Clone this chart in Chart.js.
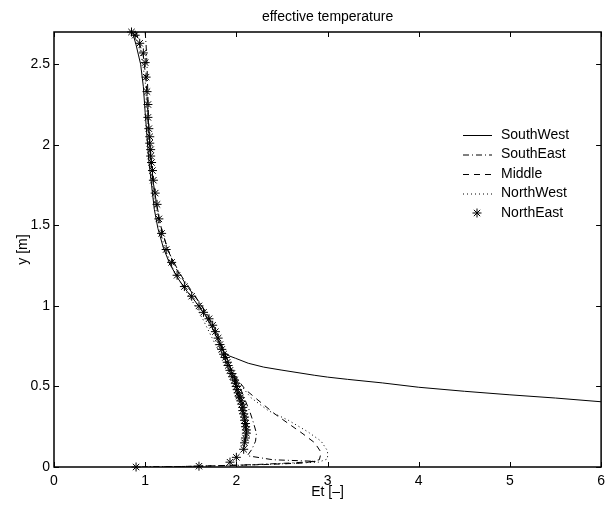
<!DOCTYPE html>
<html lang="en">
<head>
    <meta charset="UTF-8">
    <title>effective temperature</title>
    <style>
        body { margin: 0; background: #fff; }
        canvas { display: block; }
    </style>
</head>
<body>
    <canvas id="myChart" width="611" height="506"></canvas>
    <script src="https://cdn.jsdelivr.net/npm/chart.js@4.4.1/dist/chart.umd.min.js"></script>
    <script>
        // valores
        const nombres = ['SouthWest', 'SouthEast', 'Middle', 'NorthWest', 'NorthEast'];
        const xTicks = [0, 1, 2, 3, 4, 5, 6];
        const yTicks = [0, 0.5, 1, 1.5, 2, 2.5];

        const swX = [0.86, 0.9, 0.95, 0.98, 1.0, 1.02, 1.04, 1.07, 1.10, 1.14, 1.2, 1.27, 1.36, 1.46, 1.56, 1.65, 1.72, 1.78, 1.83, 1.86, 1.92, 1.99, 2.13, 2.3, 2.49, 2.86, 3.0, 3.22, 3.6, 4.0, 4.5, 5.0, 5.5, 6.0];
        const swY = [2.70, 2.62, 2.50, 2.36, 2.2, 2.05, 1.9, 1.75, 1.6, 1.48, 1.36, 1.26, 1.17, 1.09, 1.02, 0.95, 0.88, 0.81, 0.75, 0.716, 0.69, 0.675, 0.644, 0.62, 0.602, 0.569, 0.558, 0.544, 0.522, 0.495, 0.47, 0.448, 0.428, 0.405];

        const seX = [1.0, 1.01, 1.02, 1.03, 1.04, 1.06, 1.09, 1.13, 1.19, 1.27, 1.38, 1.5, 1.62, 1.72, 1.8, 1.87, 1.93, 1.99, 2.05, 2.1, 2.15, 2.19, 2.22, 2.21, 2.17, 2.12, 2.4, 2.88, 2.6, 2.2, 1.8, 1.4, 1.0];
        const seY = [2.70, 2.62, 2.5, 2.3, 2.1, 1.9, 1.75, 1.6, 1.45, 1.32, 1.2, 1.1, 1.0, 0.9, 0.8, 0.7, 0.62, 0.55, 0.48, 0.41, 0.34, 0.27, 0.21, 0.16, 0.11, 0.07, 0.045, 0.035, 0.025, 0.015, 0.008, 0.003, 0.0];

        const miX = [0.9, 0.98, 1.01, 1.03, 1.05, 1.08, 1.12, 1.17, 1.24, 1.33, 1.45, 1.57, 1.68, 1.76, 1.83, 1.89, 1.94, 1.99, 2.1, 2.27, 2.42, 2.57, 2.72, 2.86, 2.93, 2.91, 2.75, 2.3, 1.8, 1.3, 0.95];
        const miY = [2.7, 2.55, 2.4, 2.2, 2.0, 1.8, 1.65, 1.5, 1.36, 1.24, 1.13, 1.04, 0.95, 0.86, 0.77, 0.68, 0.61, 0.56, 0.48, 0.40, 0.33, 0.27, 0.21, 0.15, 0.09, 0.045, 0.025, 0.015, 0.008, 0.002, 0.0];

        const nwX = [0.88, 0.96, 1.0, 1.02, 1.04, 1.07, 1.1, 1.15, 1.21, 1.28, 1.37, 1.47, 1.56, 1.63, 1.7, 1.77, 1.84, 1.91, 1.98, 2.06, 2.16, 2.35, 2.57, 2.78, 2.93, 3.0, 3.0, 2.9, 2.5, 2.0, 1.5, 1.0];
        const nwY = [2.7, 2.55, 2.4, 2.2, 2.0, 1.8, 1.65, 1.5, 1.37, 1.26, 1.16, 1.07, 0.99, 0.92, 0.84, 0.76, 0.69, 0.62, 0.56, 0.5, 0.43, 0.35, 0.29, 0.22, 0.16, 0.1, 0.05, 0.03, 0.02, 0.01, 0.004, 0.0];

        const neX = [0.85, 0.89, 0.94, 0.98, 1.0, 1.01, 1.02, 1.03, 1.03, 1.04, 1.05, 1.05, 1.06, 1.06, 1.07, 1.08, 1.09, 1.11, 1.13, 1.15, 1.18, 1.23, 1.29, 1.35, 1.43, 1.51, 1.59, 1.64, 1.70, 1.74, 1.77, 1.80, 1.82, 1.84, 1.86, 1.88, 1.90, 1.91, 1.93, 1.95, 1.96, 1.98, 1.99, 2.0, 2.01, 2.02, 2.03, 2.04, 2.05, 2.06, 2.07, 2.07, 2.08, 2.09, 2.09, 2.10, 2.10, 2.11, 2.11, 2.10, 2.09, 2.08, 2.0, 1.93, 1.59, 0.9];
        const neY = [2.70, 2.68, 2.63, 2.57, 2.51, 2.42, 2.33, 2.25, 2.17, 2.10, 2.05, 2.01, 1.97, 1.93, 1.89, 1.84, 1.78, 1.70, 1.63, 1.54, 1.45, 1.35, 1.27, 1.19, 1.12, 1.06, 1.0, 0.96, 0.92, 0.88, 0.84, 0.80, 0.76, 0.73, 0.70, 0.68, 0.65, 0.63, 0.60, 0.58, 0.56, 0.54, 0.52, 0.50, 0.48, 0.46, 0.44, 0.43, 0.41, 0.39, 0.37, 0.35, 0.33, 0.31, 0.29, 0.27, 0.25, 0.23, 0.21, 0.18, 0.15, 0.11, 0.06, 0.03, 0.005, 0.0];

        const familia = '"Liberation Sans", Arial, Helvetica, sans-serif';
        const fuente = { family: familia, size: 14, weight: 'normal' };

        function puntos(xs, ys) {
            return xs.map((x, i) => ({ x: x, y: ys[i] }));
        }

        const series = [
            { label: nombres[0], data: puntos(swX, swY), dash: [] },
            { label: nombres[1], data: puntos(seX, seY), dash: [6, 3, 1, 3] },
            { label: nombres[2], data: puntos(miX, miY), dash: [6, 5] },
            { label: nombres[3], data: puntos(nwX, nwY), dash: [1, 3] },
        ];

        const datasets = series.map(s => ({
            label: s.label,
            data: s.data,
            showLine: true,
            borderColor: '#000',
            borderWidth: 1,
            borderDash: s.dash,
            pointRadius: 0,
            tension: 0,
        }));
        datasets.push({
            label: nombres[4],
            data: puntos(neX, neY),
            showLine: false,
            pointStyle: 'star',
            pointRadius: 4.5,
            pointBorderWidth: 1,
            borderColor: '#000',
            backgroundColor: '#000',
            clip: false,
        });

        // marco y marcas hacia adentro, estilo matlab
        const marco = {
            id: 'marco',
            afterDatasetsDraw(chart) {
                const { ctx, chartArea: a, scales: { x, y } } = chart;
                ctx.save();
                ctx.strokeStyle = '#000';
                ctx.lineWidth = 1;
                ctx.setLineDash([]);
                ctx.beginPath();
                x.ticks.forEach(t => {
                    const px = Math.round(x.getPixelForValue(t.value)) + 0.5;
                    ctx.moveTo(px, a.bottom); ctx.lineTo(px, a.bottom - 5);
                    ctx.moveTo(px, a.top); ctx.lineTo(px, a.top + 5);
                });
                y.ticks.forEach(t => {
                    const py = Math.round(y.getPixelForValue(t.value)) + 0.5;
                    ctx.moveTo(a.left, py); ctx.lineTo(a.left + 5, py);
                    ctx.moveTo(a.right, py); ctx.lineTo(a.right - 5, py);
                });
                ctx.stroke();
                ctx.lineWidth = 1.5;
                ctx.strokeRect(a.left, a.top, a.right - a.left, a.bottom - a.top);

                // titulo centrado sobre el area del grafico
                ctx.font = '14px ' + familia;
                ctx.fillStyle = '#000';
                ctx.textAlign = 'center';
                ctx.textBaseline = 'middle';
                ctx.fillText('effective temperature', (a.left + a.right) / 2, 17);
                ctx.restore();
            }
        };

        const leyenda = {
            id: 'leyenda',
            afterDraw(chart) {
                const ctx = chart.ctx;
                ctx.save();
                ctx.font = '14px ' + familia;
                ctx.fillStyle = '#000';
                ctx.strokeStyle = '#000';
                ctx.textBaseline = 'middle';
                chart.data.datasets.forEach((ds, i) => {
                    const yy = 135 + i * 19.5;
                    if (ds.showLine) {
                        ctx.lineWidth = 1;
                        ctx.setLineDash(ds.borderDash);
                        ctx.beginPath();
                        ctx.moveTo(463, yy + 0.5);
                        ctx.lineTo(492, yy + 0.5);
                        ctx.stroke();
                        ctx.setLineDash([]);
                    } else {
                        Chart.helpers.drawPoint(ctx, { pointStyle: 'star', radius: 4.5, rotation: 0, borderWidth: 1 }, 477, yy);
                    }
                    ctx.fillText(ds.label, 501, yy);
                });
                ctx.restore();
            }
        };

        const ctx = document.getElementById('myChart').getContext('2d');
        const grafico = new Chart(ctx, {
            type: 'scatter',
            data: { datasets: datasets },
            options: {
                responsive: false,
                animation: false,
                devicePixelRatio: 1,
                layout: { padding: { top: 32, right: 5, bottom: 0, left: 0 } },
                plugins: {
                    legend: { display: false },
                    tooltip: { enabled: false },
                    title: { display: false },
                },
                scales: {
                    x: {
                        type: 'linear',
                        min: 0,
                        max: 6,
                        afterBuildTicks: s => { s.ticks = xTicks.map(v => ({ value: v })); },
                        afterFit: s => { s.height = 39; },
                        grid: { display: false, drawTicks: false },
                        border: { display: false },
                        ticks: { color: '#000', font: fuente, padding: 6, maxRotation: 0, autoSkip: false, callback: v => String(v) },
                        title: { display: true, text: 'Et [–]', color: '#000', font: fuente, padding: { top: 0, bottom: 5 } },
                    },
                    y: {
                        type: 'linear',
                        min: 0,
                        max: 2.7,
                        afterBuildTicks: s => { s.ticks = yTicks.map(v => ({ value: v })); },
                        afterFit: s => { s.width = 54; },
                        grid: { display: false, drawTicks: false },
                        border: { display: false },
                        ticks: { color: '#000', font: fuente, padding: 4, autoSkip: false, callback: v => String(v) },
                        title: { display: true, text: 'y [m]', color: '#000', font: fuente, padding: { top: 15, bottom: 0 } },
                    },
                },
            },
            plugins: [marco, leyenda],
        });
    </script>
</body>
</html>
